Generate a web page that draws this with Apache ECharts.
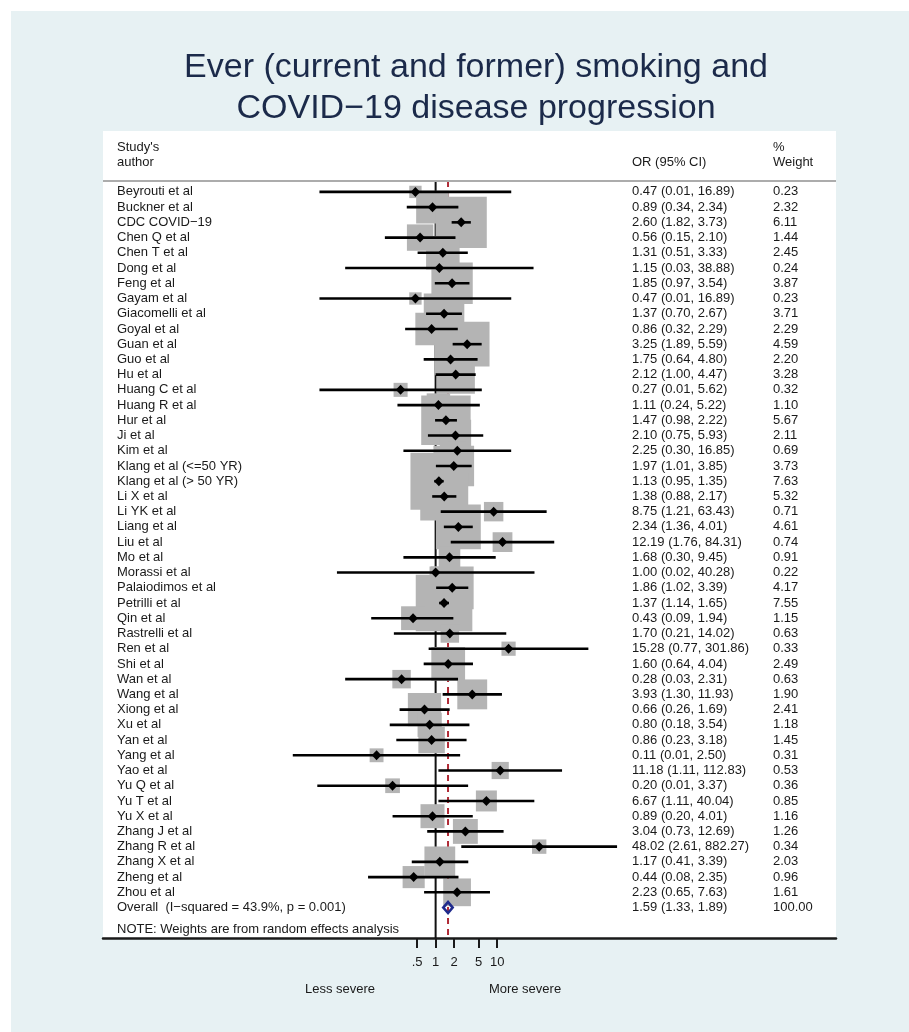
<!DOCTYPE html>
<html><head><meta charset="utf-8">
<script src="https://cdn.jsdelivr.net/npm/echarts@6/dist/echarts.min.js"></script>
<style>html,body{margin:0;padding:0;background:#fff;}#c{width:909px;height:1032px;}</style>
</head><body><div id="c"></div>
<script>
const studies = ["Beyrouti et al","Buckner et al","CDC COVID\u221219","Chen Q et al","Chen T et al","Dong et al","Feng et al","Gayam et al","Giacomelli et al","Goyal et al","Guan et al","Guo et al","Hu et al","Huang C et al","Huang R et al","Hur et al","Ji et al","Kim et al","Klang et al (<=50 YR)","Klang et al (> 50 YR)","Li X et al","Li YK et al","Liang et al","Liu et al","Mo et al","Morassi et al","Palaiodimos et al","Petrilli et al","Qin et al","Rastrelli et al","Ren et al","Shi et al","Wan et al","Wang et al","Xiong et al","Xu et al","Yan et al","Yang et al","Yao et al","Yu Q et al","Yu T et al","Yu X et al","Zhang J et al","Zhang R et al","Zhang X et al","Zheng et al","Zhou et al"];
const oddsRatios = [0.47,0.89,2.60,0.56,1.31,1.15,1.85,0.47,1.37,0.86,3.25,1.75,2.12,0.27,1.11,1.47,2.10,2.25,1.97,1.13,1.38,8.75,2.34,12.19,1.68,1.00,1.86,1.37,0.43,1.70,15.28,1.60,0.28,3.93,0.66,0.80,0.86,0.11,11.18,0.20,6.67,0.89,3.04,48.02,1.17,0.44,2.23];
const ciLower = [0.013,0.34,1.82,0.15,0.51,0.034,0.97,0.013,0.70,0.32,1.89,0.64,1.00,0.013,0.24,0.98,0.75,0.30,1.01,0.95,0.88,1.21,1.36,1.76,0.30,0.025,1.02,1.14,0.09,0.21,0.77,0.64,0.034,1.30,0.26,0.18,0.23,0.0048,1.11,0.012,1.11,0.20,0.73,2.61,0.41,0.08,0.65];
const ciUpper = [16.89,2.34,3.73,2.10,3.33,38.88,3.54,16.89,2.67,2.29,5.59,4.80,4.47,5.62,5.22,2.22,5.93,16.85,3.85,1.35,2.17,63.43,4.01,84.31,9.45,40.28,3.39,1.65,1.94,14.02,301.86,4.04,2.31,11.93,1.69,3.54,3.18,2.50,112.83,3.37,40.04,4.01,12.69,882.27,3.39,2.35,7.63];
const weights = [0.23,2.32,6.11,1.44,2.45,0.24,3.87,0.23,3.71,2.29,4.59,2.20,3.28,0.32,1.10,5.67,2.11,0.69,3.73,7.63,5.32,0.71,4.61,0.74,0.91,0.22,4.17,7.55,1.15,0.63,0.33,2.49,0.63,1.90,2.41,1.18,1.45,0.31,0.53,0.36,0.85,1.16,1.26,0.34,2.03,0.96,1.61];
const ciLabels = ["0.47 (0.01, 16.89)","0.89 (0.34, 2.34)","2.60 (1.82, 3.73)","0.56 (0.15, 2.10)","1.31 (0.51, 3.33)","1.15 (0.03, 38.88)","1.85 (0.97, 3.54)","0.47 (0.01, 16.89)","1.37 (0.70, 2.67)","0.86 (0.32, 2.29)","3.25 (1.89, 5.59)","1.75 (0.64, 4.80)","2.12 (1.00, 4.47)","0.27 (0.01, 5.62)","1.11 (0.24, 5.22)","1.47 (0.98, 2.22)","2.10 (0.75, 5.93)","2.25 (0.30, 16.85)","1.97 (1.01, 3.85)","1.13 (0.95, 1.35)","1.38 (0.88, 2.17)","8.75 (1.21, 63.43)","2.34 (1.36, 4.01)","12.19 (1.76, 84.31)","1.68 (0.30, 9.45)","1.00 (0.02, 40.28)","1.86 (1.02, 3.39)","1.37 (1.14, 1.65)","0.43 (0.09, 1.94)","1.70 (0.21, 14.02)","15.28 (0.77, 301.86)","1.60 (0.64, 4.04)","0.28 (0.03, 2.31)","3.93 (1.30, 11.93)","0.66 (0.26, 1.69)","0.80 (0.18, 3.54)","0.86 (0.23, 3.18)","0.11 (0.01, 2.50)","11.18 (1.11, 112.83)","0.20 (0.01, 3.37)","6.67 (1.11, 40.04)","0.89 (0.20, 4.01)","3.04 (0.73, 12.69)","48.02 (2.61, 882.27)","1.17 (0.41, 3.39)","0.44 (0.08, 2.35)","2.23 (0.65, 7.63)"];
const weightLabels = ["0.23","2.32","6.11","1.44","2.45","0.24","3.87","0.23","3.71","2.29","4.59","2.20","3.28","0.32","1.10","5.67","2.11","0.69","3.73","7.63","5.32","0.71","4.61","0.74","0.91","0.22","4.17","7.55","1.15","0.63","0.33","2.49","0.63","1.90","2.41","1.18","1.45","0.31","0.53","0.36","0.85","1.16","1.26","0.34","2.03","0.96","1.61"];
const overallName = "Overall  (I\u2212squared = 43.9%, p = 0.001)";
const overallEstimate = [1.59, 1.33, 1.89];
const overallCiLabel = "1.59 (1.33, 1.89)";
const overallWeightLabel = "100.00";
const noteText = "NOTE: Weights are from random effects analysis";
const tickValues = [0.5, 1, 2, 5, 10];
const tickLabels = [".5", "1", "2", "5", "10"];

const FONT = '"Liberation Sans", Arial, Helvetica, sans-serif';
const TXT = '#1a1a1a';
const lg = v => Math.log10(v);
const N = studies.length;
const overallRow = N;
const noteRow = N + 1.45;

const chart = echarts.init(document.getElementById('c'), null, {renderer: 'canvas'});

function txt(t, x, y, extra) {
  return Object.assign({type: 'text', style: {text: t, x: x, y: y, fill: TXT, fontSize: 13, fontFamily: FONT, verticalAlign: 'middle', align: 'left'}}, extra || {});
}

const studyData = studies.map((s, i) => [lg(oddsRatios[i]), i, lg(ciLower[i]), lg(ciUpper[i]), weights[i]]);
const tickLog = tickValues.map(lg);

const option = {
  backgroundColor: '#e7f1f3',
  animation: false,
  title: {
    text: 'Ever (current and former) smoking and\nCOVID\u221219 disease progression',
    left: 471, top: 42, textAlign: 'center',
    textStyle: {fontSize: 34, lineHeight: 41, fontWeight: 'normal', color: '#1b2a4a', fontFamily: FONT}
  },
  graphic: [
    {type: 'rect', left: 0, top: 0, shape: {width: 909, height: 11}, style: {fill: '#fff'}},
    {type: 'rect', left: 0, top: 0, shape: {width: 11, height: 1032}, style: {fill: '#fff'}},
    {type: 'text', x: 340, y: 989, style: {text: 'Less severe', fill: TXT, fontSize: 13, fontFamily: FONT, align: 'center', verticalAlign: 'middle'}},
    {type: 'text', x: 525, y: 989, style: {text: 'More severe', fill: TXT, fontSize: 13, fontFamily: FONT, align: 'center', verticalAlign: 'middle'}}
  ],
  grid: {left: 103, top: 131, width: 733, height: 807, show: true, backgroundColor: '#fff', borderWidth: 0},
  xAxis: {
    type: 'value', min: -5.40, max: 6.50,
    splitLine: {show: false},
    axisLine: {show: true, onZero: false, lineStyle: {color: '#1a1a1a', width: 2.5}},
    axisTick: {show: true, customValues: tickLog, length: 10, lineStyle: {color: '#1a1a1a', width: 2}},
    axisLabel: {show: true, customValues: tickLog, margin: 18, fontSize: 13, color: TXT, fontFamily: FONT,
      formatter: v => { let k = 0, d = 1e9; tickLog.forEach((t, j) => { if (Math.abs(t - v) < d) { d = Math.abs(t - v); k = j; } }); return tickLabels[k]; }}
  },
  yAxis: {type: 'value', min: -4, max: 49, inverse: true, show: false},
  series: [
    {
      type: 'custom', name: 'reference lines', z: 1, data: [[0]],
      renderItem: (params, api) => {
        const t = api.coord([0, -0.72]), b = api.coord([0, 49]);
        const e = lg(overallEstimate[0]);
        const rt = api.coord([e, -0.72]), rb = api.coord([e, 49]);
        return {type: 'group', children: [
          {type: 'line', shape: {x1: t[0], y1: t[1], x2: b[0], y2: b[1]}, style: {stroke: '#111', lineWidth: 2}},
          {type: 'line', shape: {x1: rt[0], y1: rt[1], x2: rb[0], y2: rb[1]}, style: {stroke: '#b02a36', lineWidth: 2, lineDash: [6, 5]}}
        ]};
      }
    },
    {
      type: 'custom', name: 'weight boxes', z: 2, data: studyData,
      renderItem: (params, api) => {
        const p = api.coord([api.value(0), api.value(1)]);
        const s = 3 + 19.5 * Math.sqrt(api.value(4));
        return {type: 'rect', shape: {x: p[0] - s / 2, y: p[1] - s / 2, width: s, height: s}, style: {fill: '#b4b4b4'}};
      }
    },
    {
      type: 'custom', name: 'confidence intervals', z: 3, data: studyData,
      renderItem: (params, api) => {
        const a = api.coord([api.value(2), api.value(1)]);
        const b = api.coord([api.value(3), api.value(1)]);
        const p = api.coord([api.value(0), api.value(1)]);
        return {type: 'group', children: [
          {type: 'line', shape: {x1: a[0], y1: a[1], x2: b[0], y2: b[1]}, style: {stroke: '#000', lineWidth: 2.6}},
          {type: 'polygon', shape: {points: [[p[0] - 4.8, p[1]], [p[0], p[1] - 5], [p[0] + 4.8, p[1]], [p[0], p[1] + 5]]}, style: {fill: '#000'}}
        ]};
      }
    },
    {
      type: 'custom', name: 'overall', z: 4, data: [[lg(overallEstimate[0]), overallRow, lg(overallEstimate[1]), lg(overallEstimate[2])]],
      renderItem: (params, api) => {
        const p = api.coord([api.value(0), api.value(1)]);
        const l = api.coord([api.value(2), api.value(1)]);
        const r = api.coord([api.value(3), api.value(1)]);
        return {type: 'polygon', shape: {points: [[l[0], p[1]], [p[0], p[1] - 5.5], [r[0], p[1]], [p[0], p[1] + 5.5]]}, style: {fill: 'none', stroke: '#1f2a8c', lineWidth: 2.6}};
      }
    },
    {
      type: 'custom', name: 'table', z: 5, data: studies.map((s, i) => [0, i]),
      renderItem: (params, api) => {
        const i = params.dataIndex;
        const y = api.coord([0, i])[1];
        return {type: 'group', children: [
          txt(studies[i], 117, y), txt(ciLabels[i], 632, y), txt(weightLabels[i], 773, y)
        ]};
      }
    },
    {
      type: 'custom', name: 'header and footer', z: 5, data: [[0, 0]],
      renderItem: (params, api) => {
        const y1 = api.coord([0, -2.9])[1], y2 = api.coord([0, -1.93])[1];
        const yl = api.coord([0, -0.72])[1];
        const yo = api.coord([0, overallRow])[1], yn = api.coord([0, noteRow])[1];
        return {type: 'group', children: [
          txt("Study's", 117, y1), txt('author', 117, y2),
          txt('OR (95% CI)', 632, y2),
          txt('%', 773, y1), txt('Weight', 773, y2),
          {type: 'line', shape: {x1: 103, y1: yl, x2: 836, y2: yl}, style: {stroke: '#acacac', lineWidth: 2}},
          txt(overallName, 117, yo), txt(overallCiLabel, 632, yo), txt(overallWeightLabel, 773, yo),
          txt(noteText, 117, yn)
        ]};
      }
    }
  ]
};
chart.setOption(option);
</script></body></html>
